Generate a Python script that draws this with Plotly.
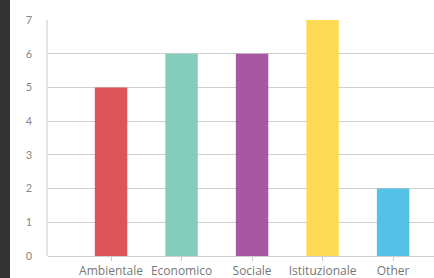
import plotly.graph_objects as go

categories = ["Ambientale", "Economico", "Sociale", "Istituzionale", "Other"]
values = [5, 6, 6, 7, 2]
colors = ["#DB4B52", "#7DCAB8", "#A34E9E", "#FFD84C", "#4BBFE6"]
y_ticks = [0, 1, 2, 3, 4, 5, 6, 7]

W, H = 434, 278
L, R, T, B = 48, 0, 20, 22
pw = W - L - R

fig = go.Figure()
fig.add_trace(go.Bar(
    x=categories, y=values,
    marker=dict(color=colors, opacity=0.95, line=dict(width=0)),
    width=0.46,
))

fig.update_layout(
    width=W, height=H,
    margin=dict(l=L, r=R, t=T, b=B),
    paper_bgcolor="white", plot_bgcolor="white",
    showlegend=False,
    font=dict(family="Lato, sans-serif", size=11, color="#888888"),
    shapes=[dict(type="rect", xref="paper", yref="paper",
                 x0=-L / pw, x1=-(L - 10) / pw, y0=-B / (H - T - B), y1=1 + T / (H - T - B),
                 fillcolor="#333333", line=dict(width=0), layer="below")],
)
fig.update_xaxes(
    range=[-0.894, 4.58],
    showgrid=False, showline=False, zeroline=False,
    ticks="outside", ticklen=4, tickcolor="#cccccc", tickwidth=1,
    tickfont=dict(family="Open Sans, sans-serif", size=12, color="#777777"),
)
fig.update_yaxes(
    range=[0, 7], tickvals=y_ticks,
    showgrid=True, gridcolor="#cfcfcf", gridwidth=1.2,
    showline=True, linecolor="#e2e2e2", linewidth=1.5,
    zeroline=True, zerolinecolor="#cfcfcf", zerolinewidth=1.2,
    ticks="", ticklabelstandoff=12,
    tickfont=dict(size=11, color="#888888"),
)
fig.write_html("out.html", config={"displayModeBar": False},
               post_script="document.body.style.margin='0';document.body.style.overflow='hidden';")
